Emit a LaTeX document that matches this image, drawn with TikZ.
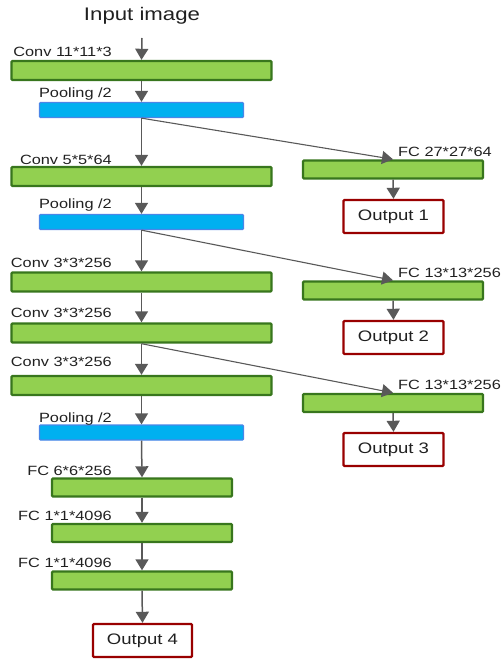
\documentclass[tikz,border=0pt]{standalone}
\usepackage{fontspec}
\setmainfont{Liberation Sans}[FakeStretch=1.22]
\usetikzlibrary{arrows.meta}
\definecolor{barfill}{HTML}{92D050}
\definecolor{barline}{HTML}{38761D}
\definecolor{poolfill}{HTML}{00B0F0}
\definecolor{poolline}{HTML}{4A86E8}
\definecolor{outline}{HTML}{990000}
\definecolor{arrowgray}{HTML}{595959}
\definecolor{txt}{HTML}{202020}
\tikzset{
  convbar/.style={draw=barline, fill=barfill, line width=2.4pt, rounded corners=1pt,
    minimum width=260pt, minimum height=19pt, inner sep=0pt},
  fcbar/.style={convbar, minimum width=180pt, minimum height=18pt},
  poolbar/.style={draw=poolline, fill=poolfill, line width=1.3pt, rounded corners=1pt,
    minimum width=204pt, minimum height=15pt, inner sep=0pt},
  outbox/.style={draw=outline, fill=white, line width=2.4pt, rounded corners=1pt,
    minimum width=100pt, minimum height=33pt, inner sep=0pt, text=txt,
    font=\fontsize{15.2pt}{17pt}\selectfont},
  lbl/.style={inner sep=0pt, text=txt, font=\fontsize{13.4pt}{15pt}\selectfont},
  leftlbl/.style={lbl, anchor=base east},
  rightlbl/.style={lbl, anchor=base west},
  flow/.style={draw=arrowgray, line width=1.5pt,
    -{Triangle[width=13pt,length=11pt]}},
  branch/.style={draw=arrowgray, line width=1.1pt,
    -{Triangle[width=13pt,length=11pt]}},
}
\begin{document}
\begin{tikzpicture}[x=1pt,y=-1pt]
\useasboundingbox (0,0) rectangle (501,661);

% title
\node[lbl, font=\fontsize{18.2pt}{20pt}\selectfont] (title) at (142,16) {Input image};
\coordinate (inputend) at (142,38);

% main column
\node[convbar] (conv1) at (141.5,70.5) {};
\node[poolbar] (pool1) at (141.5,110) {};
\node[convbar] (conv2) at (141.5,176.5) {};
\node[poolbar] (pool2) at (141.5,222) {};
\node[convbar] (conv3) at (141.5,282) {};
\node[convbar] (conv4) at (141.5,333) {};
\node[convbar] (conv5) at (141.5,385.5) {};
\node[poolbar] (pool3) at (141.5,432.5) {};
\node[fcbar] (fc6) at (142,487.5) {};
\node[fcbar] (fc7) at (142,533) {};
\node[fcbar] (fc8) at (142,580.5) {};
\node[outbox, minimum width=99pt] (out4) at (142.5,640.5) {Output 4};

% side branches
\node[fcbar] (fcA) at (393,169.5) {};
\node[outbox] (out1) at (393.5,216.5) {Output 1};
\node[fcbar] (fcB) at (393,290.5) {};
\node[outbox] (out2) at (393.5,337.5) {Output 2};
\node[fcbar] (fcC) at (393,403) {};
\node[outbox] (out3) at (393.5,449.5) {Output 3};

% layer labels
\node[leftlbl] (lconv1) at (112,57) {Conv 11*11*3};
\node[leftlbl] (lpool1) at (112,97) {Pooling /2};
\node[leftlbl] (lconv2) at (112,164) {Conv 5*5*64};
\node[leftlbl] (lpool2) at (112,208) {Pooling /2};
\node[leftlbl] (lconv3) at (112,267) {Conv 3*3*256};
\node[leftlbl] (lconv4) at (112,317) {Conv 3*3*256};
\node[leftlbl] (lconv5) at (112,366) {Conv 3*3*256};
\node[leftlbl] (lpool3) at (112,422) {Pooling /2};
\node[leftlbl] (lfc6) at (112,475) {FC 6*6*256};
\node[leftlbl] (lfc7) at (112,520) {FC 1*1*4096};
\node[leftlbl] (lfc8) at (112,567) {FC 1*1*4096};
\node[rightlbl] (lfcA) at (398,156) {FC 27*27*64};
\node[rightlbl] (lfcB) at (398,277) {FC 13*13*256};
\node[rightlbl] (lfcC) at (398,389) {FC 13*13*256};

% main flow
\draw[flow] (inputend) -- (conv1.north);
\draw[flow] (conv1.south) -- (pool1.north);
\draw[flow] (pool1.south) -- (conv2.north);
\draw[flow] (conv2.south) -- (pool2.north);
\draw[flow] (pool2.south) -- (conv3.north);
\draw[flow] (conv3.south) -- (conv4.north);
\draw[flow] (conv4.south) -- (conv5.north);
\draw[flow] (conv5.south) -- (pool3.north);
\draw[flow] (pool3.south) -- (fc6.north);
\draw[flow] (fc6.south) -- (fc7.north);
\draw[flow] (fc7.south) -- (fc8.north);
\draw[flow] (fc8.south) -- (out4.north);

% branch flow
\draw[branch] (pool1.south) -- (fcA.north);
\draw[branch] (pool2.south) -- (fcB.north);
\draw[branch] (conv4.south) -- (fcC.north);
\draw[flow] (fcA.south) -- (out1.north);
\draw[flow] (fcB.south) -- (out2.north);
\draw[flow] (fcC.south) -- (out3.north);
\end{tikzpicture}
\end{document}
